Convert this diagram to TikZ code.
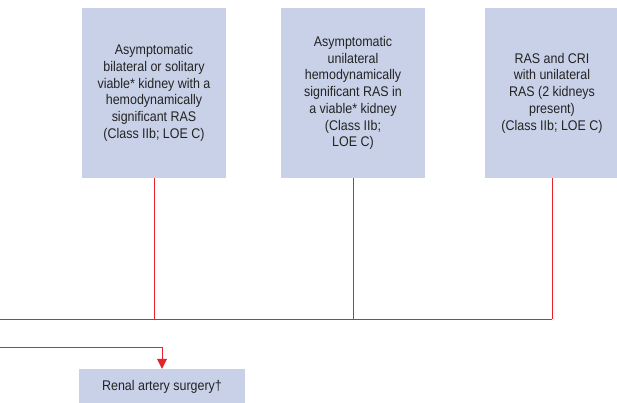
\documentclass[tikz,border=0pt]{standalone}
\usepackage{fontspec}
\setmainfont{Liberation Sans}[FakeStretch=0.89]
\usetikzlibrary{arrows.meta}
\definecolor{boxfill}{RGB}{200,209,232}
\definecolor{linered}{RGB}{230,35,45}
\definecolor{txt}{RGB}{35,35,35}
\tikzset{
  rasbox/.style={fill=boxfill, draw=none, inner sep=0pt, align=center, text=txt,
    font=\fontsize{14pt}{16.7pt}\selectfont},
  conn/.style={draw=linered, line width=0.8pt},
}
\begin{document}
\begin{tikzpicture}[x=1pt,y=-1pt]
\useasboundingbox (0,0) rectangle (617,403);
\node[rasbox, minimum width=144pt, minimum height=170pt] (b1) at (154,93)
  {Asymptomatic\\bilateral or solitary\\viable* kidney with a\\hemodynamically\\significant RAS\\(Class IIb; LOE C)};
\node[rasbox, minimum width=144pt, minimum height=170pt] (b2) at (353,93)
  {Asymptomatic\\unilateral\\hemodynamically\\significant RAS in\\a viable* kidney\\(Class IIb;\\LOE C)};
\node[rasbox, minimum width=134pt, minimum height=170pt] (b3) at (552,93)
  {RAS and CRI\\with unilateral\\RAS (2 kidneys\\present)\\(Class IIb; LOE C)};
\node[rasbox, minimum width=166pt, minimum height=36pt] (surg) at (162,387)
  {Renal artery surgery†};
\coordinate (jL) at (0,319);
\coordinate (sL) at (0,347);
\draw[conn] (b1.south) -- (b1.south |- jL);
\draw[conn] (b2.south) -- (b2.south |- jL);
\draw[conn] (b3.south) -- (b3.south |- jL);
\draw[conn] (jL) -- (b3.south |- jL);
\draw[conn, -{Triangle[length=10pt,width=10pt]}] (sL) -| (surg.north);
\end{tikzpicture}
\end{document}
